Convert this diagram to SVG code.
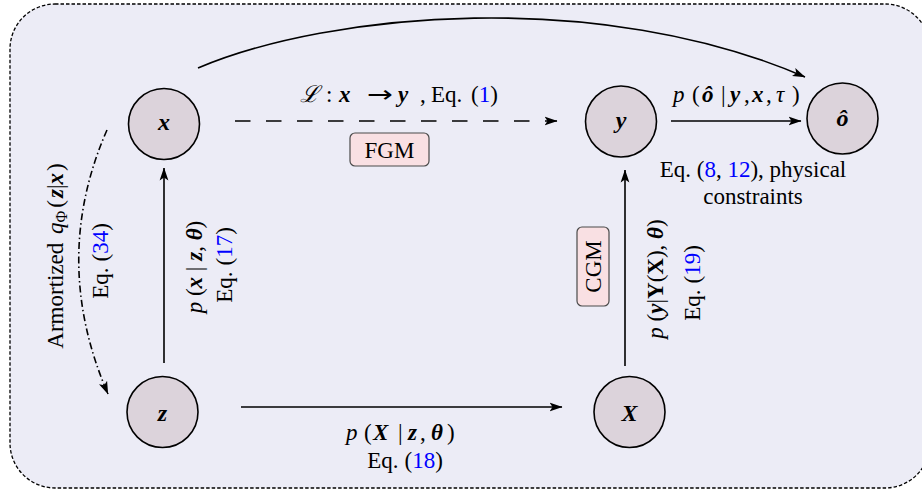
<svg xmlns="http://www.w3.org/2000/svg" width="922" height="492" viewBox="0 0 922 492">
<style>
text{font-family:"Liberation Serif","DejaVu Serif",serif;font-size:23px;fill:#000}
.node circle{fill:#dcd3db;stroke:#000;stroke-width:1.6}
.nl{font-size:24px;font-weight:bold;font-style:italic}
.bi{font-weight:bold;font-style:italic}
.it{font-style:italic}
.b{font-weight:bold}
.ref{fill:#0000ff}
.arr{font-family:"DejaVu Sans",sans-serif;font-size:23px}
.edge{fill:none;stroke:#000;stroke-width:1.6}
.tag{fill:#f9e0e3;stroke:#4a4a4a;stroke-width:1.2}
</style>
<defs>
<marker id="ah" viewBox="0 0 13 10" refX="12.5" refY="5" markerWidth="13" markerHeight="10" markerUnits="userSpaceOnUse" orient="auto">
<path d="M0,0.6 L13,5 L0,9.4 L3,5 Z" fill="#000"/>
</marker>
</defs>
<rect x="10" y="4" width="920" height="484" rx="45" ry="45" fill="#ececf6" stroke="#000" stroke-width="1.3" stroke-dasharray="3.5 2"/>

<g id="connectors">
<path class="edge" d="M164,363 L164,168" marker-end="url(#ah)"/>
<path class="edge" d="M241,407 L562,407" marker-end="url(#ah)"/>
<path class="edge" d="M625,366 L625,170" marker-end="url(#ah)"/>
<path class="edge" d="M235,121 L557,121" stroke-dasharray="15.5 15.5" marker-end="url(#ah)"/>
<path class="edge" d="M671,121 L801,121" marker-end="url(#ah)"/>
<path class="edge" d="M198,68 C330,12 600,-12 805,77" marker-end="url(#ah)"/>
<path class="edge" d="M107,130 Q50,260 108,394" stroke-dasharray="7 3 1.5 3" marker-end="url(#ah)"/>
</g>

<g id="node-x" class="node"><circle cx="164" cy="124" r="35.5"/><text class="nl" x="164" y="130" text-anchor="middle">x</text></g>
<g id="node-z" class="node"><circle cx="162.5" cy="412" r="35.5"/><text class="nl" x="162.5" y="421" text-anchor="middle">z</text></g>
<g id="node-y" class="node"><circle cx="621" cy="121.5" r="35.5"/><text class="nl" x="621" y="128" text-anchor="middle">y</text></g>
<g id="node-o" class="node"><circle cx="842.5" cy="118.5" r="35.5"/><text class="nl" x="842.5" y="126" text-anchor="middle">ô</text></g>
<g id="node-X" class="node"><circle cx="629.5" cy="412" r="35.5"/><text class="nl" x="629.5" y="421" text-anchor="middle">X</text></g>

<g id="labels">
<text y="102"><tspan x="300" class="it">ℒ</tspan><tspan x="326">:</tspan><tspan x="339" class="bi">x</tspan><tspan x="367" class="arr" textLength="26" lengthAdjust="spacingAndGlyphs">→</tspan><tspan x="398" class="bi">y</tspan><tspan x="420">,</tspan><tspan x="431">Eq.</tspan><tspan x="471">(</tspan><tspan class="ref">1</tspan><tspan>)</tspan></text>

<g id="tag-fgm"><rect class="tag" x="350" y="133" width="79" height="33" rx="5"/><text x="389.5" y="158" text-anchor="middle">FGM</text></g>

<text y="102"><tspan x="673" class="it">p</tspan><tspan x="692">(</tspan><tspan x="702" class="bi">ô</tspan><tspan x="721">|</tspan><tspan x="730" class="bi">y</tspan><tspan x="744">,</tspan><tspan x="752" class="bi">x</tspan><tspan x="766">,</tspan><tspan x="776" class="it">τ</tspan><tspan x="792">)</tspan></text>

<text x="753" y="177" text-anchor="middle">Eq. (<tspan class="ref">8</tspan>, <tspan class="ref">12</tspan>), physical</text>
<text x="753" y="204" text-anchor="middle">constraints</text>

<text y="440"><tspan x="346" class="it">p</tspan><tspan x="364">(</tspan><tspan x="373" class="bi">X</tspan><tspan x="398">|</tspan><tspan x="408" class="bi">z</tspan><tspan x="420">,</tspan><tspan x="431" class="bi">θ</tspan><tspan x="447">)</tspan></text>
<text x="405" y="468" text-anchor="middle">Eq.<tspan dx="6">(</tspan><tspan class="ref">18</tspan>)</text>

<text transform="translate(202,267) rotate(-90)" text-anchor="middle"><tspan class="it">p</tspan> (<tspan class="bi">x</tspan> | <tspan class="bi">z</tspan>, <tspan class="bi">θ</tspan>)</text>
<text transform="translate(232,265) rotate(-90)" text-anchor="middle">Eq.<tspan dx="6">(</tspan><tspan class="ref">17</tspan>)</text>

<text transform="translate(63,256) rotate(-90)" text-anchor="middle">Armortized <tspan class="it" dx="3">q</tspan><tspan font-size="16" dy="4">Φ</tspan><tspan dy="-4" dx="3">(</tspan><tspan class="bi" dx="2">z</tspan>|<tspan class="bi">x</tspan><tspan dx="2">)</tspan></text>
<text transform="translate(108,261) rotate(-90)" text-anchor="middle">Eq.<tspan dx="6">(</tspan><tspan class="ref">34</tspan>)</text>

<g id="tag-cgm"><rect class="tag" x="577" y="227" width="32" height="79" rx="5"/><text transform="translate(601,266.5) rotate(-90)" text-anchor="middle">CGM</text></g>

<text transform="translate(663,279) rotate(-90)" text-anchor="middle"><tspan class="it">p</tspan> (<tspan class="bi">y</tspan>|<tspan class="b">Y</tspan>(<tspan class="b">X</tspan>), <tspan class="bi">θ</tspan>)</text>
<text transform="translate(700,283) rotate(-90)" text-anchor="middle">Eq.<tspan dx="6">(</tspan><tspan class="ref">19</tspan>)</text>
</g>
</svg>
